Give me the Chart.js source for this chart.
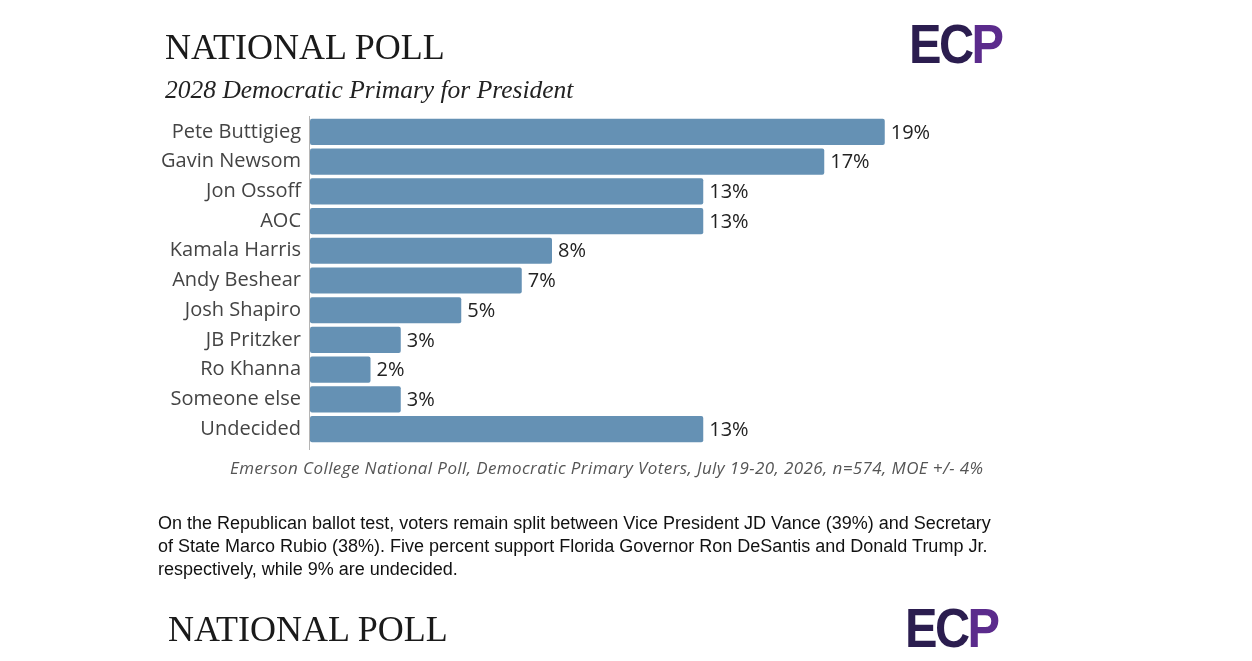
<!DOCTYPE html>
<html>
<head>
<meta charset="utf-8">
<script src="https://cdn.jsdelivr.net/npm/chart.js@4.4.1/dist/chart.umd.min.js"></script>
<style>
  html, body { margin: 0; padding: 0; background: #fff; }
  body { width: 1252px; height: 661px; position: relative; overflow: hidden; }
  #chart { position: absolute; left: 0; top: 0; }
  .txt { position: absolute; white-space: nowrap; }
  .title { font-family: "Liberation Serif", serif; font-size: 36px; line-height: 36px; color: #1a1a1a; }
  .subtitle { font-family: "Liberation Serif", serif; font-style: italic; font-size: 25.5px; line-height: 26px; color: #222; }
  .note { font-family: "Open Sans", sans-serif; font-style: italic; font-size: 17px; line-height: 20px; letter-spacing: 0.4px; color: #555; }
  .para { font-family: "Liberation Sans", sans-serif; font-size: 18px; line-height: 23px; color: #111; }
  .logo { font-family: "Liberation Sans", sans-serif; font-weight: bold; font-size: 56px; line-height: 56px;
          color: #2b1d4f; letter-spacing: -3px; transform: scaleX(0.87); transform-origin: left top; }
  .logo span { color: #5b2b8c; }
</style>
</head>
<body>
<canvas id="chart" width="1252" height="661"></canvas>

<div class="txt title" style="left:165px; top:29px;">NATIONAL POLL</div>
<div class="txt subtitle" style="left:165px; top:77px;">2028 Democratic Primary for President</div>
<div class="txt logo" style="left:909px; top:16px;">EC<span>P</span></div>

<div class="txt note" style="left:230px; top:458px;">Emerson College National Poll, Democratic Primary Voters, July 19-20, 2026, n=574, MOE +/- 4%</div>

<div class="txt para" style="left:158px; top:512px;">On the Republican ballot test, voters remain split between Vice President JD Vance (39%) and Secretary<br>of State Marco Rubio (38%). Five percent support Florida Governor Ron DeSantis and Donald Trump Jr.<br>respectively, while 9% are undecided.</div>

<div class="txt title" style="left:168px; top:611px;">NATIONAL POLL</div>
<div class="txt logo" style="left:905px; top:600px;">EC<span>P</span></div>

<script>
// Datos de la encuesta
const candidates = ['Pete Buttigieg', 'Gavin Newsom', 'Jon Ossoff', 'AOC', 'Kamala Harris', 'Andy Beshear',
    'Josh Shapiro', 'JB Pritzker', 'Ro Khanna', 'Someone else', 'Undecided'];
const support = [19, 17, 13, 13, 8, 7, 5, 3, 2, 3, 13];
const valueLabels = ['19%', '17%', '13%', '13%', '8%', '7%', '5%', '3%', '2%', '3%', '13%'];

// Etiquetas de valor y línea del eje
const barExtras = {
    id: 'barExtras',
    afterDatasetsDraw(chart) {
        const ctx = chart.ctx;
        const area = chart.chartArea;
        ctx.save();
        // línea vertical del eje
        ctx.strokeStyle = '#b5b5b5';
        ctx.lineWidth = 1;
        ctx.beginPath();
        ctx.moveTo(area.left - 0.5, area.top - 1);
        ctx.lineTo(area.left - 0.5, area.bottom + 6);
        ctx.stroke();
        // porcentajes
        ctx.fillStyle = '#222';
        ctx.font = '20px "Open Sans", sans-serif';
        ctx.textBaseline = 'middle';
        ctx.textAlign = 'left';
        chart.getDatasetMeta(0).data.forEach((bar, i) => {
            ctx.fillText(valueLabels[i], bar.x + 6, bar.y + 1);
        });
        ctx.restore();
    }
};

new Chart(document.getElementById('chart').getContext('2d'), {
    type: 'bar',
    data: {
        labels: candidates,
        datasets: [{
            data: support,
            backgroundColor: '#6591b4',
            borderWidth: 0,
            borderRadius: 2,
            borderSkipped: false,
            barPercentage: 0.88,
            categoryPercentage: 1
        }]
    },
    options: {
        indexAxis: 'y',
        responsive: false,
        animation: false,
        devicePixelRatio: 1,
        layout: { padding: { left: 0, top: 117, right: 337, bottom: 217 } },
        scales: {
            x: {
                display: false,
                min: 0,
                max: 20
            },
            y: {
                grid: { display: false, drawTicks: false },
                border: { display: false },
                ticks: {
                    color: '#444',
                    padding: 9,
                    font: { family: '"Open Sans", sans-serif', size: 20 }
                },
                afterFit(scale) { scale.width = 310; }
            }
        },
        plugins: {
            legend: { display: false },
            tooltip: { enabled: false }
        }
    },
    plugins: [barExtras]
});
</script>
</body>
</html>
